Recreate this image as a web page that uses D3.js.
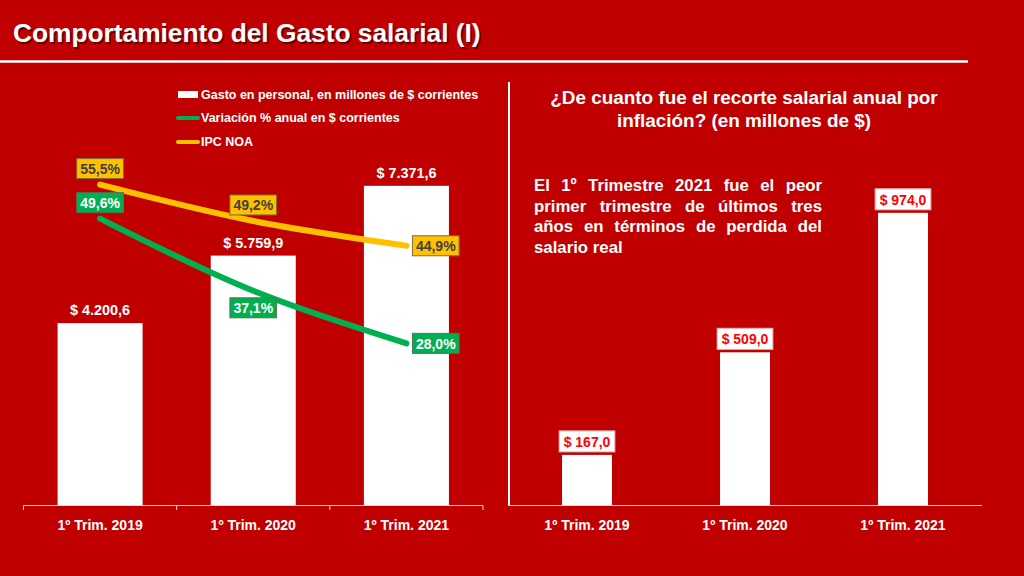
<!DOCTYPE html>
<html>
<head>
<meta charset="utf-8">
<script src="https://cdn.jsdelivr.net/npm/d3@7"></script>
<style>
  html, body { margin: 0; padding: 0; background: #c00000; }
  svg { display: block; font-family: "Liberation Sans", Arial, sans-serif; }
</style>
</head>
<body>
<div id="chart"></div>
<script>
const width = 1024;
const height = 576;

// data
const categories = ["1º Trim. 2019", "1º Trim. 2020", "1º Trim. 2021"];
const gastoPersonal = [4200.6, 5759.9, 7371.6];
const variacionAnual = [49.6, 37.1, 28.0];
const ipcNoa = [55.5, 49.2, 44.9];
const recorteSalarial = [167.0, 509.0, 974.0];

const legendLabels = [
  "Gasto en personal, en millones de $ corrientes",
  "Variación % anual en $ corrientes",
  "IPC NOA"
];
const rightTitle = ["¿De cuanto fue el recorte salarial anual por", "inflación? (en millones de $)"];
const noteLines = [
  "El 1º Trimestre 2021 fue el peor",
  "primer trimestre de últimos tres",
  "años en términos de perdida del",
  "salario real"
];

const RED = "#c00000";
const GREEN = "#00b050";
const YELLOW = "#ffc000";
const AXIS = "#d9d9d9";

const es = d3.formatLocale({ decimal: ",", thousands: ".", grouping: [3], currency: ["$ ", ""] });
const fmtMoney = es.format("$,.1f");
const fmtPct = d => es.format(".1f")(d) + "%";

const svg = d3.select("#chart")
  .append("svg")
  .attr("width", width)
  .attr("height", height);

svg.append("rect").attr("width", width).attr("height", height).attr("fill", RED);

// header
svg.append("text")
  .attr("x", 14.5).attr("y", 43.5)
  .attr("fill", "#000").attr("opacity", 0.45)
  .style("font-size", "26.3px").style("font-weight", "bold")
  .text("Comportamiento del Gasto salarial (I)");
svg.append("text")
  .attr("x", 13).attr("y", 42)
  .attr("fill", "#fff")
  .style("font-size", "26.3px").style("font-weight", "bold")
  .text("Comportamiento del Gasto salarial (I)");
svg.append("line")
  .attr("x1", 0).attr("x2", 968).attr("y1", 61.5).attr("y2", 61.5)
  .attr("stroke", "#fff").attr("stroke-width", 2.5);

// separator
svg.append("line")
  .attr("x1", 509).attr("x2", 509).attr("y1", 82).attr("y2", 505)
  .attr("stroke", "#fff").attr("stroke-width", 2);

// ---------- left chart ----------
const xL = d3.scaleBand().domain(categories).range([23.5, 483]).paddingInner(0.445).paddingOuter(0.2225);
const yL = d3.scaleLinear().domain([0, 10000]).range([505, 72]);
const yP = d3.scaleLinear().domain([0, 75]).range([505, 72]);
const stepL = xL.step();

const left = svg.append("g");

left.selectAll(".bar")
  .data(gastoPersonal)
  .enter()
  .append("rect")
  .classed("bar", true)
  .attr("x", (d, i) => xL(categories[i]))
  .attr("y", d => yL(d))
  .attr("width", xL.bandwidth())
  .attr("height", d => yL(0) - yL(d))
  .attr("fill", "#fff");

left.selectAll(".bar-label")
  .data(gastoPersonal)
  .enter()
  .append("text")
  .classed("bar-label", true)
  .attr("x", (d, i) => xL(categories[i]) + xL.bandwidth() / 2)
  .attr("y", d => yL(d) - 8)
  .attr("text-anchor", "middle")
  .attr("fill", "#fff")
  .style("font-size", "14.4px").style("font-weight", "bold")
  .text(d => fmtMoney(d));

// axis line with boundary ticks
left.append("line")
  .attr("x1", 23.5).attr("x2", 483).attr("y1", 505.5).attr("y2", 505.5)
  .attr("stroke", AXIS).attr("stroke-width", 1.2);
left.selectAll(".tick")
  .data(d3.range(categories.length + 1))
  .enter()
  .append("line")
  .attr("x1", i => 23.5 + i * stepL).attr("x2", i => 23.5 + i * stepL)
  .attr("y1", 505.5).attr("y2", 510)
  .attr("stroke", AXIS).attr("stroke-width", 1);
left.selectAll(".cat")
  .data(categories)
  .enter()
  .append("text")
  .attr("x", d => xL(d) + xL.bandwidth() / 2)
  .attr("y", 530)
  .attr("text-anchor", "middle")
  .attr("fill", "#fff")
  .style("font-size", "14px").style("font-weight", "bold")
  .text(d => d);

const line = d3.line()
  .x((d, i) => xL(categories[i]) + xL.bandwidth() / 2)
  .y(d => yP(d))
  .curve(d3.curveCatmullRom.alpha(0.5));

left.append("path")
  .datum(ipcNoa)
  .attr("d", line)
  .attr("fill", "none").attr("stroke", YELLOW)
  .attr("stroke-width", 6).attr("stroke-linecap", "round");
left.append("path")
  .datum(variacionAnual)
  .attr("d", line)
  .attr("fill", "none").attr("stroke", GREEN)
  .attr("stroke-width", 6).attr("stroke-linecap", "round");

// point labels: placement per point
function pointLabels(values, place, fill, textColor, stroke) {
  const g = left.append("g");
  values.forEach((v, i) => {
    const cx = xL(categories[i]) + xL.bandwidth() / 2;
    const cy = yP(v);
    const lg = g.append("g");
    const t = lg.append("text")
      .attr("text-anchor", "middle")
      .attr("dominant-baseline", "central")
      .attr("fill", textColor)
      .style("font-size", "14px").style("font-weight", "bold")
      .text(fmtPct(v));
    const w = t.node().getComputedTextLength() + 7;
    const h = 20;
    let bx, by;
    if (place[i] === "above") { bx = cx - w / 2; by = cy - 6 - h; }
    else if (place[i] === "below") { bx = cx - w / 2; by = cy + 7; }
    else { bx = cx + 6; by = cy - h / 2; }
    lg.insert("rect", "text")
      .attr("x", bx).attr("y", by).attr("width", w).attr("height", h)
      .attr("fill", fill).attr("stroke", stroke).attr("stroke-width", 1);
    t.attr("x", bx + w / 2).attr("y", by + h / 2 + 0.5);
  });
}
pointLabels(ipcNoa, ["above", "above", "right"], YELLOW, "#404040", "#7f6a3a");
pointLabels(variacionAnual, ["above", "below", "right"], GREEN, "#fff", "#5a6e5a");

// legend
const legend = left.append("g");
legend.append("rect").attr("x", 178).attr("y", 91).attr("width", 20).attr("height", 7).attr("fill", "#fff");
[[GREEN, 118], [YELLOW, 142]].forEach(([c, y]) => {
  legend.append("line")
    .attr("x1", 178).attr("x2", 198).attr("y1", y).attr("y2", y)
    .attr("stroke", c).attr("stroke-width", 4).attr("stroke-linecap", "round");
});
legend.selectAll(".leg")
  .data(legendLabels)
  .enter()
  .append("text")
  .attr("x", 201)
  .attr("y", (d, i) => 94.5 + i * 23.8)
  .attr("dominant-baseline", "central")
  .attr("fill", "#fff")
  .style("font-size", "12.5px").style("font-weight", "bold")
  .text(d => d);

// ---------- right chart ----------
const xR = d3.scaleBand().domain(categories).range([508, 982]).paddingInner(0.684).paddingOuter(0.342);
const yR = d3.scaleLinear().domain([0, 1200]).range([505, 145]);
const right = svg.append("g");

right.selectAll("text.title")
  .data(rightTitle)
  .enter()
  .append("text")
  .classed("title", true)
  .attr("x", 744)
  .attr("y", (d, i) => 104 + i * 23)
  .attr("text-anchor", "middle")
  .attr("fill", "#fff")
  .style("font-size", "18.9px").style("font-weight", "bold")
  .text(d => d);

// justified note
const noteLeft = 534, noteRight = 822;
noteLines.forEach((ln, li) => {
  const words = ln.split(" ");
  const y = 191 + li * 20.7;
  const nodes = words.map(w => right.append("text")
    .attr("y", y)
    .attr("fill", "#fff")
    .style("font-size", "16.8px").style("font-weight", "bold")
    .text(w));
  const widths = nodes.map(n => n.node().getComputedTextLength());
  const last = li === noteLines.length - 1;
  const gap = last ? 4.7 : (noteRight - noteLeft - d3.sum(widths)) / (words.length - 1);
  let x = noteLeft;
  nodes.forEach((n, k) => { n.attr("x", x); x += widths[k] + gap; });
});

right.selectAll(".rbar")
  .data(recorteSalarial)
  .enter()
  .append("rect")
  .classed("rbar", true)
  .attr("x", (d, i) => xR(categories[i]))
  .attr("y", d => yR(d))
  .attr("width", xR.bandwidth())
  .attr("height", d => yR(0) - yR(d))
  .attr("fill", "#fff");

recorteSalarial.forEach((v, i) => {
  const cx = xR(categories[i]) + xR.bandwidth() / 2;
  const g = right.append("g");
  const t = g.append("text")
    .attr("text-anchor", "middle")
    .attr("dominant-baseline", "central")
    .attr("fill", "#ff0000")
    .style("font-size", "14px").style("font-weight", "bold")
    .text(fmtMoney(v));
  const w = t.node().getComputedTextLength() + 9;
  const h = 21;
  const by = yR(v) - 3 - h;
  g.insert("rect", "text")
    .attr("x", cx - w / 2).attr("y", by).attr("width", w).attr("height", h)
    .attr("fill", "#fff").attr("stroke", "#e6b8b8").attr("stroke-width", 1);
  t.attr("x", cx).attr("y", by + h / 2 + 0.5);
});

right.append("line")
  .attr("x1", 508).attr("x2", 982).attr("y1", 505.5).attr("y2", 505.5)
  .attr("stroke", AXIS).attr("stroke-width", 1.2);
right.selectAll(".rcat")
  .data(categories)
  .enter()
  .append("text")
  .attr("x", d => xR(d) + xR.bandwidth() / 2)
  .attr("y", 530)
  .attr("text-anchor", "middle")
  .attr("fill", "#fff")
  .style("font-size", "14px").style("font-weight", "bold")
  .text(d => d);
</script>
</body>
</html>
